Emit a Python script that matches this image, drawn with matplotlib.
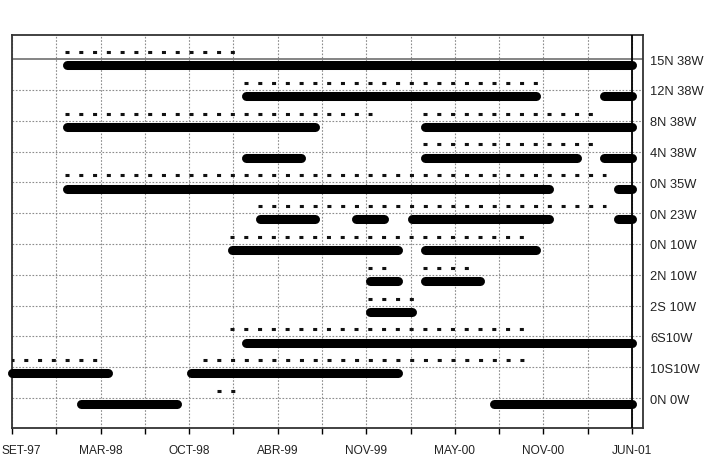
import matplotlib
matplotlib.use("Agg")
import matplotlib.pyplot as plt
import matplotlib.transforms as mtransforms
import numpy as np

plt.rcParams["font.family"] = ["Liberation Sans", "DejaVu Sans"]
plt.rcParams["lines.scale_dashes"] = False

# x in months since SET-97
sites = ["15N 38W", "12N 38W", "8N 38W", "4N 38W", "0N 35W", "0N 23W",
         "0N 10W", "2N 10W", "2S 10W", "6S10W", "10S10W", "0N 0W"]

# thick bars: (start, end) month for each site
bars = {
    "15N 38W": [(4, 45)],
    "12N 38W": [(17, 38), (43, 45)],
    "8N 38W": [(4, 22), (30, 45)],
    "4N 38W": [(17, 21), (30, 41), (43, 45)],
    "0N 35W": [(4, 39), (44, 45)],
    "0N 23W": [(18, 22), (25, 27), (29, 39), (44, 45)],
    "0N 10W": [(16, 28), (30, 38)],
    "2N 10W": [(26, 28), (30, 34)],
    "2S 10W": [(26, 29)],
    "6S10W": [(17, 45)],
    "10S10W": [(0, 7), (13, 28)],
    "0N 0W": [(5, 12), (35, 45)],
}

# dotted records: (first month, last month)
dots = {
    "15N 38W": [(4, 16)],
    "12N 38W": [(17, 38)],
    "8N 38W": [(4, 26), (30, 42)],
    "4N 38W": [(30, 42)],
    "0N 35W": [(4, 43)],
    "0N 23W": [(18, 43)],
    "0N 10W": [(16, 37)],
    "2N 10W": [(26, 27), (30, 33)],
    "2S 10W": [(26, 29)],
    "6S10W": [(16, 37)],
    "10S10W": [(0, 6), (14, 37)],
    "0N 0W": [(15, 16)],
}

tick_labels = ["SET-97", "MAR-98", "OCT-98", "ABR-99", "NOV-99",
               "MAY-00", "NOV-00", "JUN-01"]
x_end = 45

fig = plt.figure(figsize=(7.05, 4.62), dpi=100)
ax = fig.add_axes([12 / 705, 34 / 462, 631 / 705, 393 / 462])

n = len(sites)
for i, name in enumerate(sites):
    yv = n - i
    for s, e in bars[name]:
        ax.plot([s, e], [yv - 0.2, yv - 0.2], color="black", lw=6.5,
                solid_capstyle="round", zorder=4, clip_on=False)
    for s, e in dots[name]:
        ax.plot([s - 0.15, e + 0.15], [yv + 0.23, yv + 0.23], color="#111111",
                lw=2.2, dashes=(2.9, 7.02), dash_capstyle="butt", zorder=3)

# grid
major = np.linspace(0, x_end, len(tick_labels))
minor = (major[:-1] + major[1:]) / 2
for xv in np.concatenate([major, minor]):
    ax.axvline(xv, color="#8c8c8c", lw=0.8, ls=(0, (1.2, 1.2)), zorder=1)
for i in range(n):
    yv = n - i
    if i == 0:
        ax.axhline(yv, color="#707070", lw=1.2, zorder=1)
    else:
        ax.axhline(yv, color="#8c8c8c", lw=0.8, ls=(0, (1.2, 1.2)), zorder=1)
ax.axvline(x_end, color="black", lw=1.3, zorder=5)

ax.set_xlim(0, 45.8)
ax.set_ylim(0.03, 12.78)

ax.set_xticks(major)
ax.set_xticklabels(tick_labels, fontsize=8.6, color="#222222")
ax.set_xticks(minor, minor=True)
ax.tick_params(axis="x", which="both", direction="out", length=4, width=1,
               color="black", pad=8)
ax.set_yticks([])

# first date label sits against the left edge, nudge it in
first = ax.get_xticklabels()[0]
first.set_transform(first.get_transform()
                    + mtransforms.ScaledTranslation(7 / 72, 0, fig.dpi_scale_trans))

trans = mtransforms.blended_transform_factory(ax.transAxes, ax.transData)
for i, name in enumerate(sites):
    ax.text(1.011, n - i - 0.08, name, transform=trans, fontsize=9.3,
            color="#222222", va="center", ha="left")

for sp in ax.spines.values():
    sp.set_color("#333333")
    sp.set_linewidth(1.3)

fig.savefig("out.png", dpi=100)
